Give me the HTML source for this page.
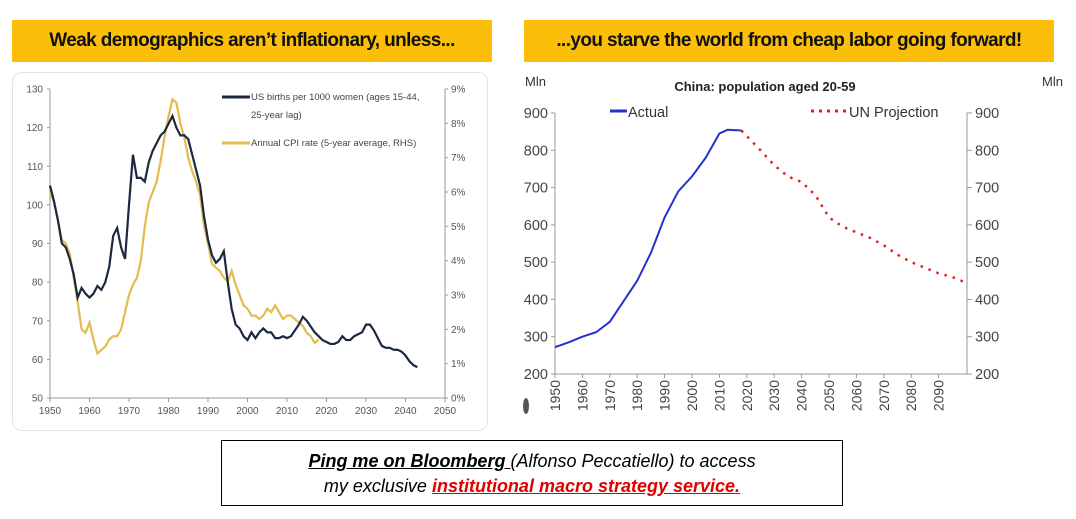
<!DOCTYPE html>
<html><head><meta charset="utf-8"><style>
body{margin:0;width:1076px;height:519px;background:#fff;position:relative;overflow:hidden;font-family:"Liberation Sans",sans-serif}
.banner{position:absolute;background:#fbbf0a;font-weight:bold;font-size:19px;color:#111;text-align:center;line-height:42px;letter-spacing:-0.6px}
.box{position:absolute;left:221px;top:440px;width:622px;height:66px;border:1.5px solid #000;text-align:center;font-style:italic;font-size:18px;line-height:25px;padding-top:8px;box-sizing:border-box}
</style></head><body>
<div class="banner" style="left:12px;top:20px;width:480px;height:42px">Weak demographics aren’t inflationary, unless...</div>
<div class="banner" style="left:524px;top:20px;width:530px;height:42px">...you starve the world from cheap labor going forward!</div>
<div style="position:absolute;left:12px;top:72px;width:474px;height:357px;border:1px solid #e4e4e4;border-radius:10px"></div>
<svg id="s" width="1076" height="519" style="position:absolute;left:0;top:0"></svg>
<div class="box"><b><u>Ping me on Bloomberg </u></b>(Alfonso Peccatiello) to access<br>my exclusive <b style="color:#e00000"><u>institutional macro strategy service.</u></b></div>
<script>
const birthYearsStart=1950;
const births=[105,101,96,90,89,86,82,76,78.5,77,76,77,79,78,80,84,92,94,89,86,100,113,107,107,106,111,114,116,118,119,121,123,120,118,118,117,113,109,105,97,91,87,85,86,88,80,73,69,68,66,65,67,65.5,67,68,67,67,65.5,65.5,66,65.5,66,67.5,69,71,70,68.5,67,66,65,64.5,64,64,64.5,66,65,65,66,66.5,67,69,69,67.5,65.5,63.5,63,63,62.5,62.5,62,61,59.5,58.5,58];
const cpi=[6.0,5.7,5.2,4.6,4.5,4.2,3.5,2.8,2.0,1.9,2.2,1.7,1.3,1.4,1.5,1.7,1.8,1.8,2.0,2.5,3.0,3.3,3.5,4.0,5.0,5.7,6.0,6.3,6.9,7.6,8.2,8.7,8.6,8.0,7.6,7.0,6.6,6.3,5.9,5.0,4.5,3.9,3.8,3.7,3.5,3.4,3.7,3.3,3.0,2.7,2.6,2.4,2.4,2.3,2.4,2.6,2.5,2.7,2.5,2.3,2.4,2.4,2.3,2.2,2.1,1.9,1.8,1.6,1.7];
const leftTicks=[50,60,70,80,90,100,110,120,130];
const rightTicks=[0,1,2,3,4,5,6,7,8,9];
const xTicksL=[1950,1960,1970,1980,1990,2000,2010,2020,2030,2040,2050];
const actualYears=[1950,1955,1960,1965,1970,1975,1980,1985,1990,1995,2000,2005,2010,2013,2018];
const actualVals=[272,285,300,312,340,395,450,525,620,690,730,780,845,855,853];
const projYears=[2018,2025,2030,2035,2040,2045,2050,2055,2060,2065,2070,2075,2080,2085,2090,2095,2100];
const projVals=[853,800,760,730,715,680,620,595,580,565,545,520,500,485,470,460,445];
const popTicks=[200,300,400,500,600,700,800,900];
const xTicksR=[1950,1960,1970,1980,1990,2000,2010,2020,2030,2040,2050,2060,2070,2080,2090];
const s=document.getElementById('s');const NS='http://www.w3.org/2000/svg';
function el(t,a,txt){const e=document.createElementNS(NS,t);for(const k in a)e.setAttribute(k,a[k]);if(txt!=null)e.textContent=txt;s.appendChild(e);return e;}
const lx=y=>50+(y-1950)*3.95, ly=v=>89+(130-v)*(309/80), ry=v=>89+(9-v)*(309/9);
let e=el('line',{x1:50,y1:89,x2:50,y2:398,stroke:'#999'});
e=el('line',{x1:445,y1:89,x2:445,y2:398,stroke:'#999'});
e=el('line',{x1:50,y1:398,x2:445,y2:398,stroke:'#999'});
leftTicks.forEach(v=>{const t=el('text',{x:43,y:ly(v)+3.5,'font-size':10,fill:'#555','text-anchor':'end'},v);el('line',{x1:47,y1:ly(v),x2:50,y2:ly(v),stroke:'#999'});});
rightTicks.forEach(v=>{const t=el('text',{x:451,y:ry(v)+3.5,'font-size':10,fill:'#555'},v+'%');el('line',{x1:445,y1:ry(v),x2:448,y2:ry(v),stroke:'#999'});});
xTicksL.forEach(v=>{const t=el('text',{x:lx(v),y:414,'font-size':10,fill:'#555','text-anchor':'middle'},v);el('line',{x1:lx(v),y1:398,x2:lx(v),y2:402,stroke:'#999'});});
e=el('path',{d:cpi.map((v,i)=>(i?'L':'M')+lx(birthYearsStart+i)+','+ry(v)).join(''),fill:'none',stroke:'#e3bc4e','stroke-width':2.2});
e=el('path',{d:births.map((v,i)=>(i?'L':'M')+lx(birthYearsStart+i)+','+ly(v)).join(''),fill:'none',stroke:'#1b2840','stroke-width':2.2});
el('line',{x1:222,y1:97,x2:250,y2:97,stroke:'#1b2840','stroke-width':3});
e=el('text',{x:251,y:100,'font-size':9.5,fill:'#444'},'US births per 1000 women (ages 15-44,');
el('text',{x:251,y:118,'font-size':9.5,fill:'#444'},'25-year lag)');
el('line',{x1:222,y1:143,x2:250,y2:143,stroke:'#e3bc4e','stroke-width':3});
e=el('text',{x:251,y:146,'font-size':9.5,fill:'#444'},'Annual CPI rate (5-year average, RHS)');
const rx=y=>555+(y-1950)*2.74, py=v=>113+(900-v)*(261/700);
el('line',{x1:555,y1:113,x2:555,y2:374,stroke:'#999'});el('line',{x1:967,y1:113,x2:967,y2:374,stroke:'#999'});el('line',{x1:555,y1:374,x2:967,y2:374,stroke:'#999'});
popTicks.forEach(v=>{let t=el('text',{x:548,y:py(v)+5,'font-size':14.5,fill:'#444','text-anchor':'end'},v);
t=el('text',{x:975,y:py(v)+5,'font-size':14.5,fill:'#444'},v);
el('line',{x1:967,y1:py(v),x2:972,y2:py(v),stroke:'#999'});el('line',{x1:551,y1:py(v),x2:555,y2:py(v),stroke:'#999'});});
xTicksR.forEach(v=>{const t=el('text',{x:0,y:0,'font-size':14,fill:'#444','text-anchor':'end',transform:`translate(${rx(v)+5},380) rotate(-90)`},v);el('line',{x1:rx(v),y1:374,x2:rx(v),y2:378,stroke:'#999'});});
e=el('path',{d:actualYears.map((y,i)=>(i?'L':'M')+rx(y)+','+py(actualVals[i])).join(''),fill:'none',stroke:'#2233cc','stroke-width':2});
e=el('path',{d:projYears.map((y,i)=>(i?'L':'M')+rx(y)+','+py(projVals[i])).join(''),fill:'none',stroke:'#e02020','stroke-width':2.5,'stroke-dasharray':'2.5 6'});
e=el('text',{x:765,y:91,'font-size':13,'font-weight':'bold',fill:'#222','text-anchor':'middle'},'China: population aged 20-59');
el('text',{x:525,y:86,'font-size':13,fill:'#333'},'Mln');el('text',{x:1042,y:86,'font-size':13,fill:'#333'},'Mln');
el('line',{x1:610,y1:111,x2:627,y2:111,stroke:'#2233cc','stroke-width':3});
e=el('text',{x:628,y:117,'font-size':14.5,fill:'#333'},'Actual');
el('line',{x1:811,y1:111,x2:848,y2:111,stroke:'#e02020','stroke-width':3,'stroke-dasharray':'3 5'});
e=el('text',{x:849,y:117,'font-size':14.5,fill:'#333'},'UN Projection');
el('ellipse',{cx:526,cy:406,rx:3,ry:8,fill:'#555'});
</script>
</body></html>
